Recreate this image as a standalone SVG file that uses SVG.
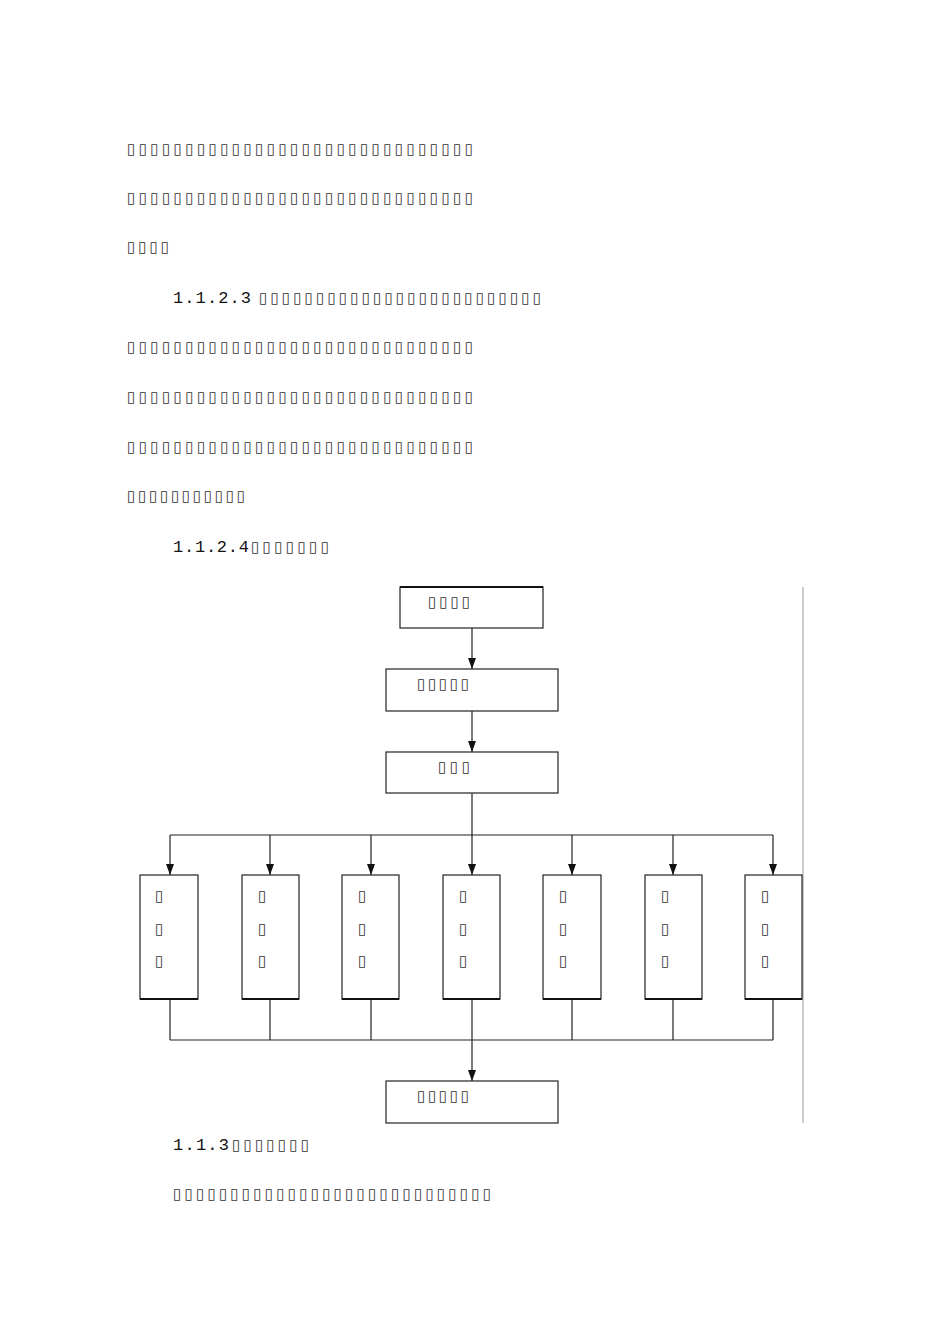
<svg xmlns="http://www.w3.org/2000/svg" width="950" height="1344" viewBox="0 0 950 1344">
<style>
text{font-family:"DejaVu Sans","Noto Sans CJK SC",sans-serif;font-size:15px;fill:#333}
.n{font-family:"Liberation Mono",monospace;font-size:17px;fill:#111}
.b{fill:#fff;stroke:#222;stroke-width:1.2}
.c{stroke:#222;stroke-width:1.2;fill:none}
</style>
<defs><marker id="a" markerWidth="8" markerHeight="10" refX="4" refY="10" orient="auto-start-reverse" markerUnits="userSpaceOnUse" viewBox="0 0 8 10"><path d="M0,0 L8,0 L4,10 Z" fill="#111" transform="rotate(0)"/></marker>
<marker id="d" markerWidth="8" markerHeight="11" refX="4" refY="11" markerUnits="userSpaceOnUse" viewBox="0 0 8 11" orient="0"><path d="M0,0 L8,0 L4,11 Z" fill="#111"/></marker></defs>
<g id="body">
<text x="127" y="154" textLength="346" lengthAdjust="spacing">▯▯▯▯▯▯▯▯▯▯▯▯▯▯▯▯▯▯▯▯▯▯▯▯▯▯▯▯▯▯</text>
<text x="127" y="203" textLength="346" lengthAdjust="spacing">▯▯▯▯▯▯▯▯▯▯▯▯▯▯▯▯▯▯▯▯▯▯▯▯▯▯▯▯▯▯</text>
<text x="127" y="252" textLength="42" lengthAdjust="spacing">▯▯▯▯</text>
<text class="n" x="173" y="303" textLength="78" lengthAdjust="spacing">1.1.2.3</text>
<text x="259" y="303" textLength="282" lengthAdjust="spacing">▯▯▯▯▯▯▯▯▯▯▯▯▯▯▯▯▯▯▯▯▯▯▯▯▯</text>
<text x="127" y="352" textLength="346" lengthAdjust="spacing">▯▯▯▯▯▯▯▯▯▯▯▯▯▯▯▯▯▯▯▯▯▯▯▯▯▯▯▯▯▯</text>
<text x="127" y="402" textLength="346" lengthAdjust="spacing">▯▯▯▯▯▯▯▯▯▯▯▯▯▯▯▯▯▯▯▯▯▯▯▯▯▯▯▯▯▯</text>
<text x="127" y="452" textLength="346" lengthAdjust="spacing">▯▯▯▯▯▯▯▯▯▯▯▯▯▯▯▯▯▯▯▯▯▯▯▯▯▯▯▯▯▯</text>
<text x="127" y="501" textLength="118" lengthAdjust="spacing">▯▯▯▯▯▯▯▯▯▯▯</text>
<text class="n" x="173" y="552" textLength="76" lengthAdjust="spacing">1.1.2.4</text>
<text x="251" y="552" textLength="78" lengthAdjust="spacing">▯▯▯▯▯▯▯</text>
<text class="n" x="173" y="1150" textLength="56" lengthAdjust="spacing">1.1.3</text>
<text x="232" y="1150" textLength="77" lengthAdjust="spacing">▯▯▯▯▯▯▯</text>
<text x="173" y="1199" textLength="318" lengthAdjust="spacing">▯▯▯▯▯▯▯▯▯▯▯▯▯▯▯▯▯▯▯▯▯▯▯▯▯▯▯▯</text>
</g>
<g id="connectors">
<line class="c" x1="472" y1="628" x2="472" y2="669" marker-end="url(#d)"/>
<line class="c" x1="472" y1="711" x2="472" y2="752" marker-end="url(#d)"/>
<line class="c" x1="472" y1="793" x2="472" y2="835"/>
<line class="c" x1="170" y1="835" x2="773" y2="835"/>
<line class="c" x1="170" y1="835" x2="170" y2="875" marker-end="url(#d)"/>
<line class="c" x1="270" y1="835" x2="270" y2="875" marker-end="url(#d)"/>
<line class="c" x1="371" y1="835" x2="371" y2="875" marker-end="url(#d)"/>
<line class="c" x1="472" y1="835" x2="472" y2="875" marker-end="url(#d)"/>
<line class="c" x1="572" y1="835" x2="572" y2="875" marker-end="url(#d)"/>
<line class="c" x1="673" y1="835" x2="673" y2="875" marker-end="url(#d)"/>
<line class="c" x1="773" y1="835" x2="773" y2="875" marker-end="url(#d)"/>
<path class="c" d="M170,999V1040M270,999V1040M371,999V1040M572,999V1040M673,999V1040M773,999V1040M170,1040H773"/>
<line class="c" x1="472" y1="999" x2="472" y2="1081" marker-end="url(#d)"/>
<line x1="803" y1="587" x2="803" y2="1123" stroke="#999" stroke-width="1"/>
</g>
<g id="n1"><rect class="b" x="400" y="587" width="143" height="41"/><line x1="400" y1="587" x2="543" y2="587" stroke="#111" stroke-width="2"/><text x="428" y="607" textLength="42" lengthAdjust="spacing">▯▯▯▯</text></g>
<g id="n2"><rect class="b" x="386" y="669" width="172" height="42"/><text x="417" y="689" textLength="52" lengthAdjust="spacing">▯▯▯▯▯</text></g>
<g id="n3"><rect class="b" x="386" y="752" width="172" height="41"/><text x="438" y="772" textLength="32" lengthAdjust="spacing">▯▯▯</text></g>
<g id="cols">
<g id="c1"><rect class="b" x="140" y="875" width="58" height="124"/><line x1="140" y1="999" x2="198" y2="999" stroke="#111" stroke-width="2"/><text x="155" y="901">▯</text><text x="155" y="934">▯</text><text x="155" y="966">▯</text></g>
<g id="c2"><rect class="b" x="242" y="875" width="57" height="124"/><line x1="242" y1="999" x2="299" y2="999" stroke="#111" stroke-width="2"/><text x="258" y="901">▯</text><text x="258" y="934">▯</text><text x="258" y="966">▯</text></g>
<g id="c3"><rect class="b" x="342" y="875" width="57" height="124"/><line x1="342" y1="999" x2="399" y2="999" stroke="#111" stroke-width="2"/><text x="358" y="901">▯</text><text x="358" y="934">▯</text><text x="358" y="966">▯</text></g>
<g id="c4"><rect class="b" x="443" y="875" width="57" height="124"/><line x1="443" y1="999" x2="500" y2="999" stroke="#111" stroke-width="2"/><text x="459" y="901">▯</text><text x="459" y="934">▯</text><text x="459" y="966">▯</text></g>
<g id="c5"><rect class="b" x="543" y="875" width="58" height="124"/><line x1="543" y1="999" x2="601" y2="999" stroke="#111" stroke-width="2"/><text x="559" y="901">▯</text><text x="559" y="934">▯</text><text x="559" y="966">▯</text></g>
<g id="c6"><rect class="b" x="645" y="875" width="57" height="124"/><line x1="645" y1="999" x2="702" y2="999" stroke="#111" stroke-width="2"/><text x="661" y="901">▯</text><text x="661" y="934">▯</text><text x="661" y="966">▯</text></g>
<g id="c7"><rect class="b" x="745" y="875" width="57" height="124"/><line x1="745" y1="999" x2="802" y2="999" stroke="#111" stroke-width="2"/><text x="761" y="901">▯</text><text x="761" y="934">▯</text><text x="761" y="966">▯</text></g>
</g>
<g id="n4"><rect class="b" x="386" y="1081" width="172" height="42"/><text x="417" y="1101" textLength="52" lengthAdjust="spacing">▯▯▯▯▯</text></g>
</svg>
